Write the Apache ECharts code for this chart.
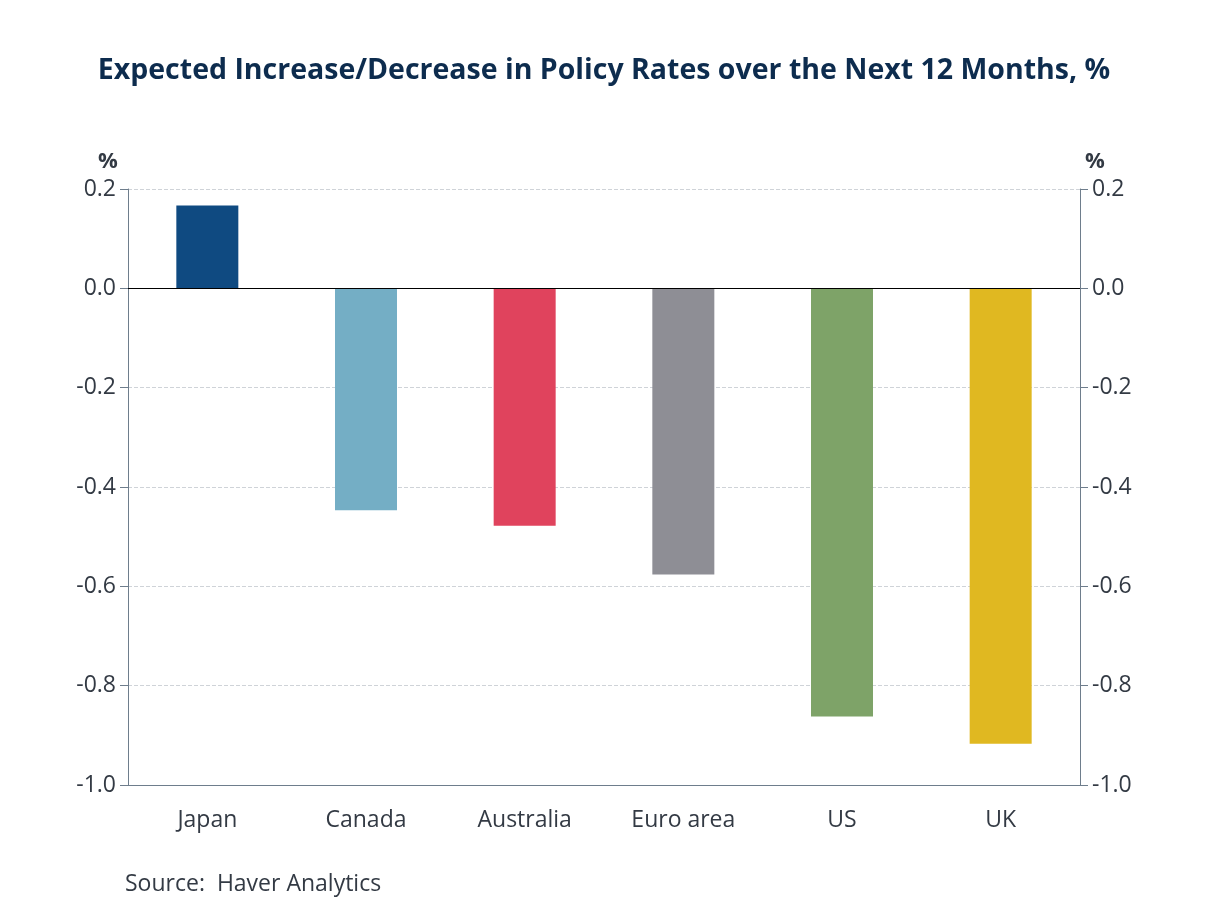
<!DOCTYPE html>
<html>
<head>
<meta charset="utf-8">
<script src="https://cdn.jsdelivr.net/npm/echarts@6/dist/echarts.min.js"></script>
<style>
  html, body { margin: 0; padding: 0; background: #fff; }
  #main { width: 1208px; height: 906px; }
</style>
</head>
<body>
<div id="main"></div>
<script>
  // 数据
  const categories = ['Japan', 'Canada', 'Australia', 'Euro area', 'US', 'UK'];
  const rateChange = [0.167, -0.447, -0.478, -0.576, -0.862, -0.917];
  const barColors = ['#0f4a81', '#74aec5', '#e0435d', '#8e8e95', '#7ea368', '#e0b821'];

  const axisColor = '#6e7d8c';
  const labelColor = '#333a44';
  const font = '"Open Sans", "Noto Sans", sans-serif';

  const chart = echarts.init(document.getElementById('main'));

  const yAxisBase = {
    type: 'value',
    min: -1.0,
    max: 0.2,
    interval: 0.2,
    axisLine: { show: true, lineStyle: { color: axisColor, width: 1 } },
    axisTick: { show: true, length: 8, lineStyle: { color: axisColor } },
    axisLabel: {
      fontFamily: font,
      fontSize: 23,
      color: labelColor,
      margin: 12,
      formatter: v => v.toFixed(1)
    }
  };

  const option = {
    backgroundColor: '#fff',
    animation: false,
    title: {
      text: 'Expected Increase/Decrease in Policy Rates over the Next 12 Months, %',
      left: 'center',
      top: 51,
      textStyle: { fontFamily: font, fontSize: 28.5, fontWeight: 'bold', color: '#0d2c4e' }
    },
    grid: { left: 128, right: 128, top: 189, bottom: 121 },
    xAxis: {
      type: 'category',
      data: categories,
      axisLine: { onZero: false, lineStyle: { color: axisColor } },
      axisTick: { show: false },
      axisLabel: { fontFamily: font, fontSize: 23, color: labelColor, margin: 24 }
    },
    yAxis: [
      Object.assign({}, yAxisBase, {
        position: 'left',
        splitLine: { show: true, lineStyle: { color: '#cfd3d8', type: 'dashed', width: 1 } }
      }),
      Object.assign({}, yAxisBase, {
        position: 'right',
        splitLine: { show: false }
      })
    ],
    series: [{
      type: 'bar',
      data: rateChange.map((v, i) => ({ value: v, itemStyle: { color: barColors[i] } })),
      barWidth: 62,
      markLine: {
        silent: true,
        symbol: 'none',
        label: { show: false },
        lineStyle: { color: '#000', type: 'solid', width: 1.2 },
        data: [{ yAxis: 0 }]
      }
    }],
    graphic: [
      { type: 'text', left: 98, top: 151, style: { text: '%', font: 'bold 22px ' + font, fill: labelColor } },
      { type: 'text', left: 1085, top: 151, style: { text: '%', font: 'bold 22px ' + font, fill: labelColor } },
      { type: 'text', left: 125, top: 873, style: { text: 'Source:  Haver Analytics', font: '23px ' + font, fill: labelColor } }
    ]
  };

  chart.setOption(option);
</script>
</body>
</html>
